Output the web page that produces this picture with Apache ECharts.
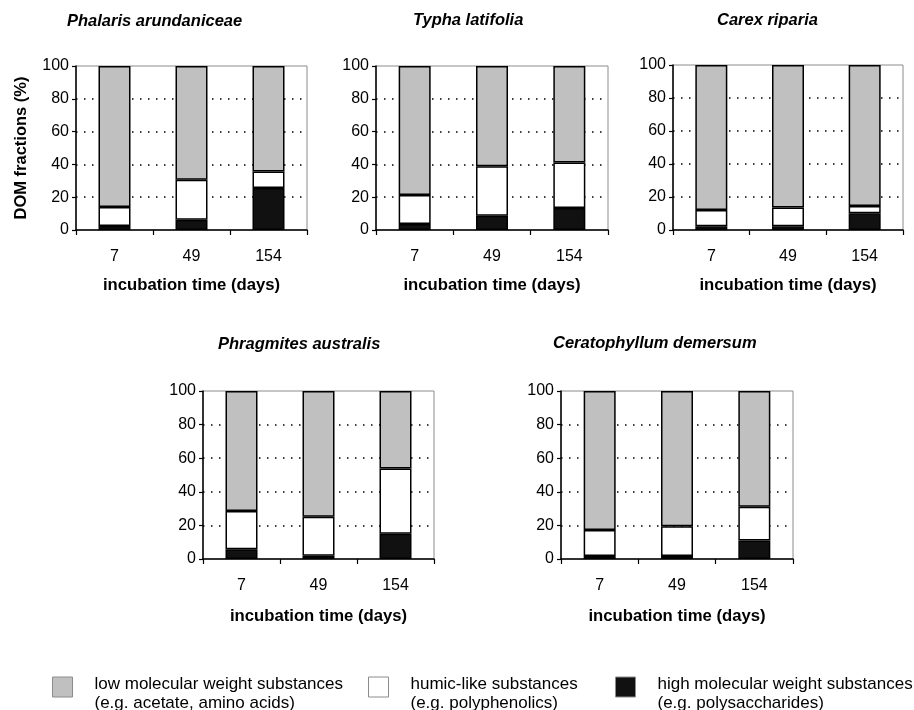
<!DOCTYPE html>
<html>
<head>
<meta charset="utf-8">
<script src="https://cdn.jsdelivr.net/npm/echarts@6/dist/echarts.min.js"></script>
<style>
  html, body { margin: 0; padding: 0; background: #fff; }
  #chart { width: 914px; height: 710px; }
</style>
</head>
<body>
<div id="chart"></div>
<script>
// ---- data ----
const categories = ['7', '49', '154'];
const panelTitles = ['Phalaris arundaniceae', 'Typha latifolia', 'Carex riparia', 'Phragmites australis', 'Ceratophyllum demersum'];
const seriesNames = [
  'high molecular weight substances\n(e.g. polysaccharides)',
  'humic-like substances\n(e.g. polyphenolics)',
  'low molecular weight substances\n(e.g. acetate, amino acids)'
];
// high molecular weight (black, bottom of stack)
const highPhalaris = [2.5, 6.3, 25.6];
const highTypha    = [3.7, 8.7, 13.4];
const highCarex    = [2.2, 2.2, 10.1];
const highPhrag    = [5.8, 2.0, 15.1];
const highCerato   = [1.8, 1.8, 11.0];
// humic-like (white, middle)
const humicPhalaris = [11.5, 24.4, 10.0];
const humicTypha    = [17.6, 30.1, 27.7];
const humicCarex    = [9.9, 11.4, 4.5];
const humicPhrag    = [22.7, 23.1, 38.7];
const humicCerato   = [15.5, 17.7, 20.1];
// low molecular weight (grey, top)
const lowPhalaris = [86.0, 69.3, 64.4];
const lowTypha    = [78.7, 61.2, 58.9];
const lowCarex    = [87.9, 86.4, 85.4];
const lowPhrag    = [71.5, 74.9, 46.2];
const lowCerato   = [82.7, 80.5, 68.9];
const yTicks = [0, 20, 40, 60, 80, 100];

const panelData = [
  [highPhalaris, humicPhalaris, lowPhalaris],
  [highTypha, humicTypha, lowTypha],
  [highCarex, humicCarex, lowCarex],
  [highPhrag, humicPhrag, lowPhrag],
  [highCerato, humicCerato, lowCerato]
];

// ---- layout ----
const FONT = 'Liberation Sans, Arial, sans-serif';
const grids = [
  { left: 76,  top: 66,  width: 231, height: 164 },
  { left: 376, top: 66,  width: 232, height: 164 },
  { left: 673, top: 65,  width: 230, height: 165 },
  { left: 203, top: 391, width: 231, height: 168 },
  { left: 561, top: 391, width: 232, height: 168 }
];
const titlePos = [
  { left: 67,  top: 13 },
  { left: 413, top: 12 },
  { left: 717, top: 12 },
  { left: 218, top: 336 },
  { left: 553, top: 335 }
];
const nameGaps = [47, 47, 47, 49, 49];
const fills = ['#111111', '#ffffff', '#c0c0c0'];

const option = {
  animation: false,
  backgroundColor: '#fff',
  textStyle: { fontFamily: FONT },
  title: panelTitles.map((t, i) => ({
    text: t, left: titlePos[i].left, top: titlePos[i].top, padding: 0,
    textStyle: { fontFamily: FONT, fontSize: 16.5, fontWeight: 'bold', fontStyle: 'italic', color: '#000' }
  })),
  grid: grids.map(g => Object.assign({ show: true, borderColor: '#8c8c8c', borderWidth: 1, backgroundColor: '#fff' }, g)),
  xAxis: grids.map((g, i) => ({
    type: 'category', gridIndex: i, data: categories, boundaryGap: true,
    name: 'incubation time (days)', nameLocation: 'middle', nameGap: nameGaps[i],
    nameTextStyle: { fontFamily: FONT, fontSize: 16.7, fontWeight: 'bold', color: '#000' },
    axisLine: { show: true, lineStyle: { color: '#000', width: 1.5 } },
    axisTick: { show: true, alignWithLabel: false, length: 5, lineStyle: { color: '#000', width: 1.2 } },
    axisLabel: { fontFamily: FONT, fontSize: 16, color: '#000', margin: 19 },
    splitLine: { show: false }
  })),
  yAxis: grids.map((g, i) => ({
    type: 'value', gridIndex: i, min: 0, max: 100, interval: 20,
    name: i === 0 ? 'DOM fractions (%)' : '', nameLocation: 'middle', nameGap: 46, nameRotate: 90,
    nameTextStyle: { fontFamily: FONT, fontSize: 16.5, fontWeight: 'bold', color: '#000' },
    axisLine: { show: true, lineStyle: { color: '#000', width: 1.5 } },
    axisTick: { show: true, length: 4, lineStyle: { color: '#000', width: 1.2 } },
    axisLabel: { fontFamily: FONT, fontSize: 16, color: '#000', margin: 7 },
    splitLine: { show: true, lineStyle: {
      color: yTicks.map(v => (v === 0 || v === 100) ? 'rgba(0,0,0,0)' : '#000'),
      width: 1.5, type: [1.5, 6.5]
    } }
  })),
  legend: [
    { name: seriesNames[2], left: 52 },
    { name: seriesNames[1], left: 368 },
    { name: seriesNames[0], left: 615 }
  ].map((l, k) => ({
    left: l.left, top: 676, orient: 'horizontal', padding: 0,
    icon: 'rect', itemWidth: 20, itemHeight: 20, selectedMode: false,
    data: [{ name: l.name, itemStyle: { color: fills[2 - k], borderColor: '#8c8c8c', borderWidth: 1 } }],
    formatter: name => name.split('\n').map((s, i) => '{' + (i ? 'b' : 'a') + '|' + s + '}').join('\n'),
    textStyle: {
      fontFamily: FONT, fontSize: 17, color: '#000', padding: [0, 0, 0, 17],
      rich: {
        a: { fontFamily: FONT, fontSize: 17, color: '#000', lineHeight: 32, verticalAlign: 'bottom' },
        b: { fontFamily: FONT, fontSize: 17, color: '#000', lineHeight: 20 }
      }
    }
  })),
  series: []
};

panelData.forEach((arrs, p) => {
  arrs.forEach((vals, s) => {
    option.series.push({
      type: 'bar', name: seriesNames[s], stack: 'panel' + p,
      xAxisIndex: p, yAxisIndex: p, data: vals, barWidth: 32,
      itemStyle: { color: fills[s], borderColor: '#000', borderWidth: 1.5 },
      emphasis: { disabled: true }
    });
  });
});

const chart = echarts.init(document.getElementById('chart'), null, { renderer: 'canvas' });
chart.setOption(option);
</script>
</body>
</html>
